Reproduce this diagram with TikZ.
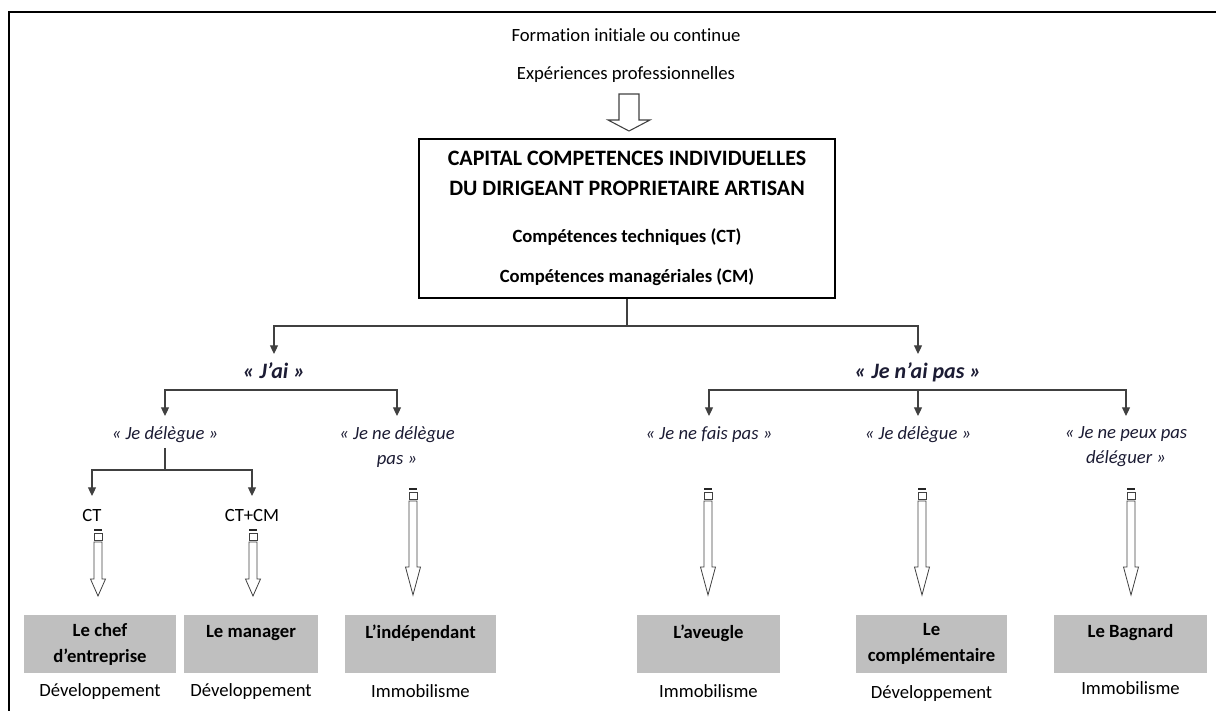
\documentclass[tikz,border=0pt]{standalone}
\usepackage{fontspec}
\setmainfont[Ligatures=NoCommon]{Carlito}
\usetikzlibrary{arrows.meta,positioning}
\definecolor{boxgray}{RGB}{191,191,191}
\definecolor{wiregray}{RGB}{64,64,64}
\definecolor{ink}{RGB}{28,28,52}
\tikzset{
  wire/.style={draw=wiregray, line width=0.8pt},
  tip/.style={-{Triangle[length=6.5pt,width=6pt]}},
  branch/.style={font=\fontsize{16.5}{20}\selectfont\bfseries\itshape, text=ink,
    anchor=north, inner sep=1pt, inner ysep=6pt},
  choice/.style={font=\fontsize{14}{18.75}\selectfont\itshape, text=ink,
    align=center, anchor=north, inner sep=1pt, inner ysep=8pt},
  share/.style={font=\fontsize{14}{17}\selectfont, anchor=north, inner sep=1pt, inner ysep=10pt},
  profile/.style={fill=boxgray, anchor=north, minimum width=#1, minimum height=43.5pt,
    align=center, inner sep=0pt, font=\fontsize{14}{19.5}\selectfont\bfseries},
  outcome/.style={font=\fontsize{14}{17}\selectfont, inner sep=1pt},
  hollow/.style={draw=black!75, line width=0.6pt},
}
% x, top, tip, head length
\newcommand{\hollowdown}[4]{%
  \fill[black!85] (#1-4,#2) rectangle (#1+4,#2+2);
  \draw[hollow] (#1-4,#2+4.5) rectangle (#1+4,#2+11);
  \draw[hollow] (#1-4,#2+13) -- (#1-4,#3-#4) -- (#1-7.5,#3-#4) -- (#1,#3)
    -- (#1+7.5,#3-#4) -- (#1+4,#3-#4) -- (#1+4,#2+13) -- cycle;
}

\begin{document}
\begin{tikzpicture}[x=0.75pt,y=-0.75pt]
  \useasboundingbox (0,0) rectangle (1216,711);
  \draw[line width=1.5pt] (1216,12) -- (9,12) -- (9,711);

  % origin of the competences
  \node[outcome] (formation) at (626,35) {Formation initiale ou continue};
  \node[outcome] (experience) at (626,75) {Expériences professionnelles};
  \draw[hollow, line width=0.8pt] (619,94) -- (619,120) -- (608,120) -- (629,131)
    -- (650,120) -- (639,120) -- (639,94) -- cycle;

  \node[draw, line width=1pt, minimum width=312pt, minimum height=119.25pt,
    align=center, inner sep=0pt, font=\fontsize{14}{22.5}\selectfont\bfseries]
    (capital) at (627,218.5)
    {{\fontsize{16.5}{22.5}\selectfont CAPITAL COMPETENCES INDIVIDUELLES}\\
     {\fontsize{16.5}{22.5}\selectfont DU DIRIGEANT PROPRIETAIRE ARTISAN}\\[12.75pt]
     Compétences techniques (CT)\\[7.5pt]
     Compétences managériales (CM)};

  % first split
  \node[branch] (jai) at (274,354) {« J’ai »};
  \node[branch] (jnap) at (918,354) {« Je n’ai pas »};
  \coordinate (split) at (627,326);
  \draw[wire] (capital.south) -- (split);
  \draw[wire,tip] (split) -| (jai.north);
  \draw[wire,tip] (split) -| (jnap.north);

  % left side
  \node[choice] (jdel) at (165,416) {« Je délègue »};
  \node[choice] (jndel) at (397,416) {« Je ne délègue\\pas »};
  \coordinate (jaibar) at (280,390);
  \draw[wire,tip] (jaibar) -| (jdel.north);
  \draw[wire,tip] (jaibar) -| (jndel.north);

  \node[share] (ct) at (92,496) {CT};
  \node[share] (ctcm) at (252,496) {CT+CM};
  \coordinate (delbar) at (165,470);
  \draw[wire] ([yshift=-6pt]jdel.base) -- (delbar);
  \draw[wire,tip] (delbar) -| (ct.north);
  \draw[wire,tip] (delbar) -| (ctcm.north);

  % right side
  \node[choice] (jnfp) at (709,416) {« Je ne fais pas »};
  \node[choice] (jdel2) at (918,416) {« Je délègue »};
  \node[choice] (jnpd) at (1126,416) {« Je ne peux pas\\déléguer »};
  \coordinate (napbar) at (918,390);
  \draw[wire,tip] (napbar) -| (jnfp.north);
  \draw[wire,tip] (napbar) -- (jdel2.north);
  \draw[wire,tip] (napbar) -| (jnpd.north);

  \hollowdown{98}{529}{596}{17}
  \hollowdown{253}{529}{596}{17}
  \hollowdown{413}{488}{595}{28}
  \hollowdown{708}{488}{595}{28}
  \hollowdown{922}{488}{595}{28}
  \hollowdown{1131}{488}{595}{28}

  % profiles
  \node[profile=114pt] (chef) at (100,615) {Le chef\\d’entreprise};
  \node[profile=100.5pt] (manager) at (251,615) {Le manager\\~};
  \node[profile=113.25pt] (indep) at (420.5,615) {L’indépendant\\~};
  \node[profile=107.25pt] (aveugle) at (708.5,615) {L’aveugle\\~};
  \node[profile=113.25pt] (compl) at (931.5,615) {Le\\complémentaire};
  \node[profile=114.75pt] (bagnard) at (1130.5,615) {Le Bagnard\\~};

  \node[outcome, below=6.5pt of chef] (chefout) {Développement};
  \node[outcome, below=6.5pt of manager] (managerout) {Développement};
  \node[outcome, below=7pt of indep] (indepout) {Immobilisme};
  \node[outcome, below=7pt of aveugle] (aveugleout) {Immobilisme};
  \node[outcome, below=7.5pt of compl] (complout) {Développement};
  \node[outcome, below=5pt of bagnard] (bagnardout) {Immobilisme};
\end{tikzpicture}
\end{document}
